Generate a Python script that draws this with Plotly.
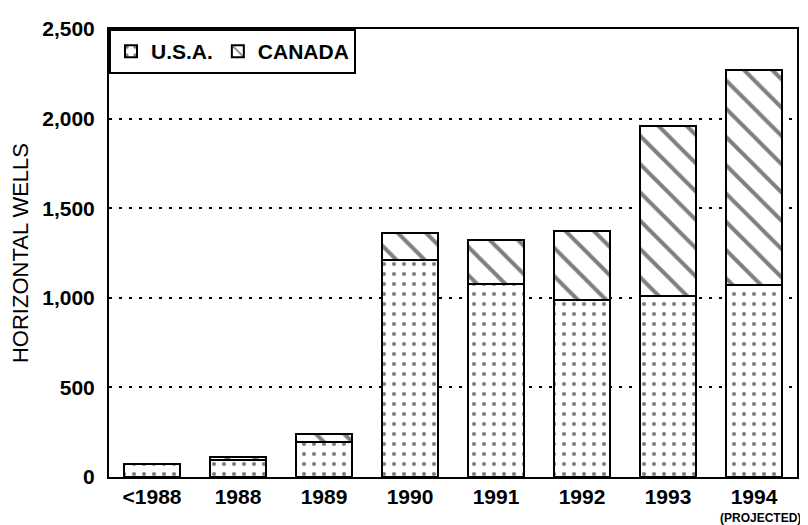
import plotly.graph_objects as go

categories = ["<1988", "1988", "1989", "1990", "1991", "1992", "1993", "1994"]
usa = [75, 95, 195, 1210, 1075, 990, 1010, 1070]
canada = [0, 15, 45, 150, 245, 385, 950, 1200]
y_ticks = [0, 500, 1000, 1500, 2000, 2500]
y_tick_labels = ["0", "500", "1,000", "1,500", "2,000", "2,500"]
projected_category = "1994"

FONT = "Liberation Sans, Arial, sans-serif"

fig = go.Figure()
fig.add_trace(go.Bar(
    x=categories, y=usa, name="U.S.A.",
    marker=dict(color="white", line=dict(color="black", width=2),
                pattern=dict(shape=".", fgcolor="black", bgcolor="white",
                             size=10, solidity=0.14, fillmode="overlay")),
))
fig.add_trace(go.Bar(
    x=categories, y=canada, name="CANADA",
    marker=dict(color="white", line=dict(color="black", width=2),
                pattern=dict(shape="\\", fgcolor="black", bgcolor="white",
                             size=20, solidity=0.2, fillmode="overlay")),
))

fig.update_layout(
    barmode="stack",
    bargap=0.34,
    width=800, height=517,
    margin=dict(l=97, r=9, t=14, b=48),
    paper_bgcolor="white", plot_bgcolor="white",
    font=dict(family=FONT, color="black"),
    showlegend=True,
    legend=dict(
        x=0, y=1, xanchor="left", yanchor="top",
        orientation="h",
        bordercolor="black", borderwidth=2, bgcolor="white",
        font=dict(family=FONT, size=21, color="black", weight="bold"),
        itemwidth=30, traceorder="normal",
    ),
    xaxis=dict(
        type="category", range=[-0.5, 7.5],
        showline=True, linecolor="black", linewidth=2, mirror=True,
        showgrid=False, ticks="",
        tickfont=dict(family=FONT, size=21, color="black", weight="bold"),
    ),
    yaxis=dict(
        range=[0, 2500],
        tickvals=y_ticks, ticktext=y_tick_labels,
        showline=True, linecolor="black", linewidth=2, mirror=True,
        showgrid=True, gridcolor="black", gridwidth=2, griddash="3px,7px",
        zeroline=False, ticks="", ticklabelstandoff=8,
        tickfont=dict(family=FONT, size=21, color="black", weight="bold"),
        title=dict(text="HORIZONTAL WELLS", standoff=10,
                   font=dict(family=FONT, size=22, color="black")),
    ),
    annotations=[dict(
        text="(PROJECTED)", x=categories.index(projected_category), xref="x",
        y=-0.072, yref="paper",
        xanchor="center", yanchor="top", xshift=6, showarrow=False,
        font=dict(family=FONT, size=12, color="black", weight="bold"),
    )],
)

fig.write_html("out.html")
